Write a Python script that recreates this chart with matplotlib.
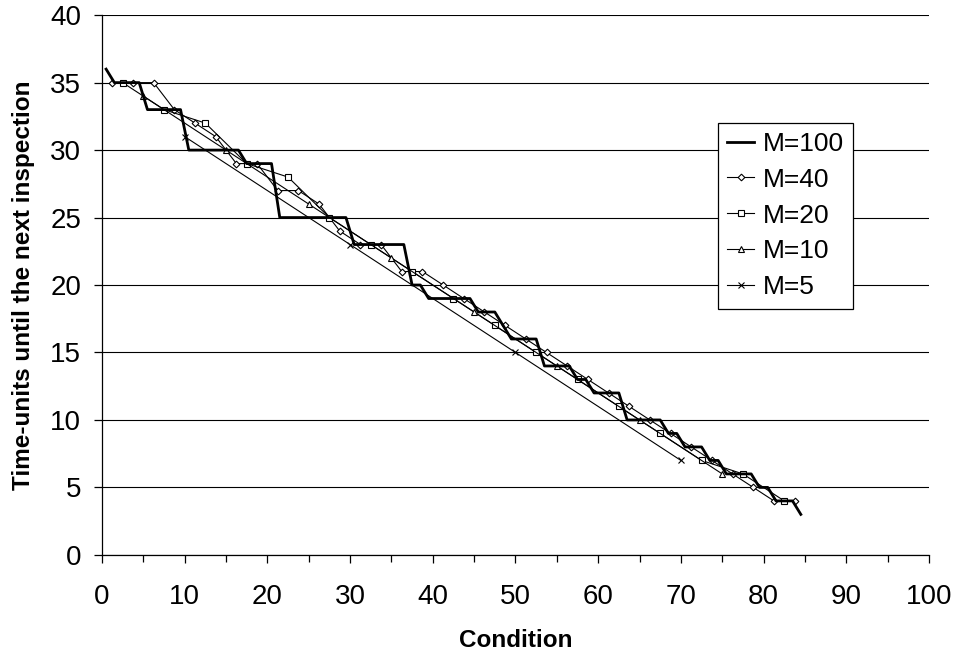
import numpy as np
import matplotlib.pyplot as plt

plt.rcParams['font.family'] = ['Liberation Sans', 'DejaVu Sans']

# M=100: corner points of the staircase
m100_x = [0.5, 1.5, 4.5, 5.5, 9.5, 10.5, 16.5, 17.5, 20.5, 21.5, 29.5, 30.5,
          36.5, 37.5, 38.5, 39.5, 44.5, 45.5, 47.5, 49.5, 52.5, 53.5, 56.5,
          57.5, 58.5, 59.5, 62.5, 63.5, 67.5, 68.5, 69.5, 70.5, 72.5, 73.5,
          74.5, 75.5, 78.5, 79.5, 80.5, 81.5, 83.5, 84.5]
m100_y = [36, 35, 35, 33, 33, 30, 30, 29, 29, 25, 25, 23,
          23, 20, 20, 19, 19, 18, 18, 16, 16, 14, 14,
          13, 13, 12, 12, 10, 10, 9, 9, 8, 8, 7,
          7, 6, 6, 5, 5, 4, 4, 3]

m40_x = [1.25, 3.75, 6.25, 8.75, 11.25, 13.75, 16.25, 18.75, 21.25, 23.75,
         26.25, 28.75, 31.25, 33.75, 36.25, 38.75, 41.25, 43.75, 46.25, 48.75,
         51.25, 53.75, 56.25, 58.75, 61.25, 63.75, 66.25, 68.75, 71.25, 73.75,
         76.25, 78.75, 81.25, 83.75]
m40_y = [35, 35, 35, 33, 32, 31, 29, 29, 27, 27,
         26, 24, 23, 23, 21, 21, 20, 19, 18, 17,
         16, 15, 14, 13, 12, 11, 10, 9, 8, 7,
         6, 5, 4, 4]

m20_x = [2.5, 7.5, 12.5, 17.5, 22.5, 27.5, 32.5, 37.5, 42.5, 47.5, 52.5,
         57.5, 62.5, 67.5, 72.5, 77.5, 82.5]
m20_y = [35, 33, 32, 29, 28, 25, 23, 21, 19, 17, 15, 13, 11, 9, 7, 6, 4]

m10_x = [5, 15, 25, 35, 45, 55, 65, 75]
m10_y = [34, 30, 26, 22, 18, 14, 10, 6]

m5_x = [10, 30, 50, 70]
m5_y = [31, 23, 15, 7]

fig = plt.figure(figsize=(9.62, 6.59), dpi=100)
ax = fig.add_axes([0.106, 0.158, 0.8597, 0.819])

ax.plot(m100_x, m100_y, color='black', lw=2.0, label='M=100', zorder=5)
ax.plot(m40_x, m40_y, color='black', lw=0.8, marker='D', ms=3.4,
        mfc='white', mec='black', mew=0.8, label='M=40', zorder=4)
ax.plot(m20_x, m20_y, color='black', lw=0.8, marker='s', ms=4.2,
        mfc='white', mec='black', mew=0.8, label='M=20', zorder=4)
ax.plot(m10_x, m10_y, color='black', lw=0.8, marker='^', ms=4.6,
        mfc='white', mec='black', mew=0.8, label='M=10', zorder=4)
ax.plot(m5_x, m5_y, color='black', lw=0.8, marker='x', ms=4.6,
        mec='black', mew=0.8, label='M=5', zorder=4)

ax.set_xlim(0, 100)
ax.set_ylim(0, 40)
ax.set_xticks(np.arange(0, 101, 10))
ax.set_xticks(np.arange(5, 100, 10), minor=True)
ax.set_yticks(np.arange(0, 41, 5))
ax.yaxis.grid(True, color='black', lw=0.8)
ax.set_axisbelow(True)
for s in ['top', 'right']:
    ax.spines[s].set_visible(False)
for s in ['left', 'bottom']:
    ax.spines[s].set_linewidth(0.9)
ax.tick_params(axis='both', which='major', direction='out', length=6,
               width=0.9, labelsize=20)
ax.tick_params(axis='x', which='minor', direction='out', length=5, width=0.9)
ax.tick_params(axis='x', pad=15)
ax.tick_params(axis='y', pad=9)

ax.set_xlabel('Condition', fontsize=17.5, fontweight='bold', labelpad=14)
ax.set_ylabel('Time-units until the next inspection', fontsize=17.5,
              fontweight='bold', labelpad=11)

leg = ax.legend(loc='upper left', bbox_to_anchor=(0.745, 0.801), fontsize=19,
                frameon=True, fancybox=False, framealpha=1, edgecolor='black',
                borderpad=0.35, labelspacing=0.45, handlelength=1.0,
                handletextpad=0.35, borderaxespad=0)
leg.get_frame().set_linewidth(0.9)

fig.savefig('out.png', dpi=100)
